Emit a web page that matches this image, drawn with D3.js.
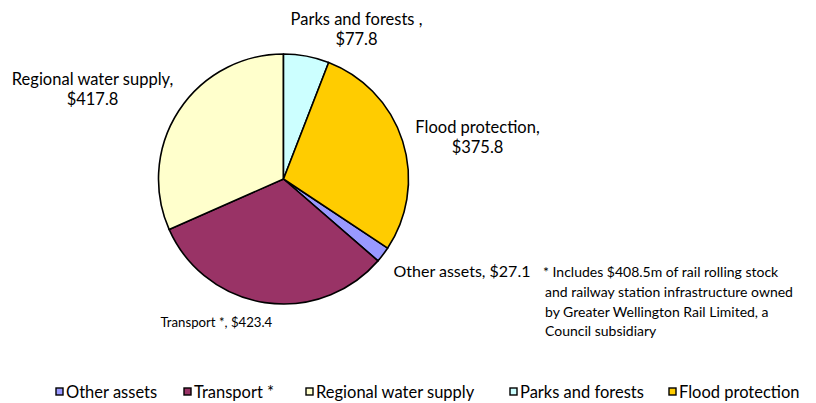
<!DOCTYPE html>
<html>
<head>
<meta charset="utf-8">
<script src="https://cdn.jsdelivr.net/npm/d3@7"></script>
<style>
  body { margin: 0; background: #fff; }
  svg { font-family: Lato, "Open Sans", sans-serif; }
</style>
</head>
<body>
<div id="chart"></div>
<script>
// data, in legend order
const categories = ["Other assets", "Transport *", "Regional water supply", "Parks and forests", "Flood protection"]
const values = [27.1, 423.4, 417.8, 77.8, 375.8]
const colors = ["#9999FF", "#993366", "#FFFFCC", "#CCFFFF", "#FFCC00"]
const sliceLabels = [
  ["Other assets, $27.1"],
  ["Transport *, $423.4"],
  ["Regional water supply,", "$417.8"],
  ["Parks and forests ,", "$77.8"],
  ["Flood protection,", "$375.8"]
]
const footnote = [
  "*  Includes $408.5m of rail rolling stock",
  "and railway station infrastructure owned",
  "by Greater Wellington Rail Limited, a",
  "Council subsidiary"
]

const width = 816, height = 403
const cx = 283.5, cy = 179, radius = 125

const svg = d3.select("#chart").append("svg")
    .attr("width", width)
    .attr("height", height)

const total = d3.sum(values)
// Parks and forests starts at 12 o'clock
const offset = d3.sum(values.slice(0, 3)) / total * 2 * Math.PI

const pie = d3.pie().sort(null).value(d => d)
    .startAngle(-offset).endAngle(2 * Math.PI - offset)
const arc = d3.arc().innerRadius(0).outerRadius(radius)
const arcs = pie(values)

const g = svg.append("g").attr("transform", `translate(${cx},${cy})`)

g.selectAll("path")
  .data(arcs)
  .join("path")
    .attr("d", arc)
    .attr("fill", (d, i) => colors[i])
    .attr("stroke", "#000")
    .attr("stroke-width", 1.6)
    .attr("stroke-linejoin", "round")

// label anchors (relative to pie centre)
const labelPos = [
  {x: 110, y: 98, anchor: "start", size: 16},
  {x: -123, y: 148, anchor: "start", size: 13.2},
  {x: -191, y: -94, anchor: "middle", size: 16.5},
  {x: 73, y: -154, anchor: "middle", size: 16.5},
  {x: 194, y: -46, anchor: "middle", size: 16.5}
]

g.selectAll("text.lbl")
  .data(arcs)
  .join("text")
    .attr("class", "lbl")
    .attr("x", (d, i) => labelPos[i].x)
    .attr("y", (d, i) => labelPos[i].y)
    .attr("text-anchor", (d, i) => labelPos[i].anchor)
    .attr("font-size", (d, i) => labelPos[i].size)
    .attr("fill", "#000")
    .each(function(d, i) {
      const t = d3.select(this)
      sliceLabels[i].forEach((line, j) => {
        t.append("tspan")
          .attr("x", labelPos[i].x)
          .attr("dy", j === 0 ? 0 : 20)
          .text(line)
      })
    })

svg.append("text")
    .attr("font-size", 14)
    .attr("fill", "#000")
  .selectAll("tspan")
  .data(footnote)
  .join("tspan")
    .attr("x", (d, i) => i === 0 ? 543 : 545)
    .attr("y", (d, i) => 277 + i * 19.8)
    .text(d => d)

// legend
const legendX = [56, 184, 306, 510, 669]
const legend = svg.append("g")
  .selectAll("g")
  .data(categories)
  .join("g")
    .attr("transform", (d, i) => `translate(${legendX[i]},388)`)

legend.append("rect")
    .attr("width", 7)
    .attr("height", 7)
    .attr("fill", (d, i) => colors[i])
    .attr("stroke", "#000")
    .attr("stroke-width", 1.4)

legend.append("text")
    .attr("x", 10)
    .attr("y", 9.5)
    .attr("font-size", 16.5)
    .text(d => d)
</script>
</body>
</html>
